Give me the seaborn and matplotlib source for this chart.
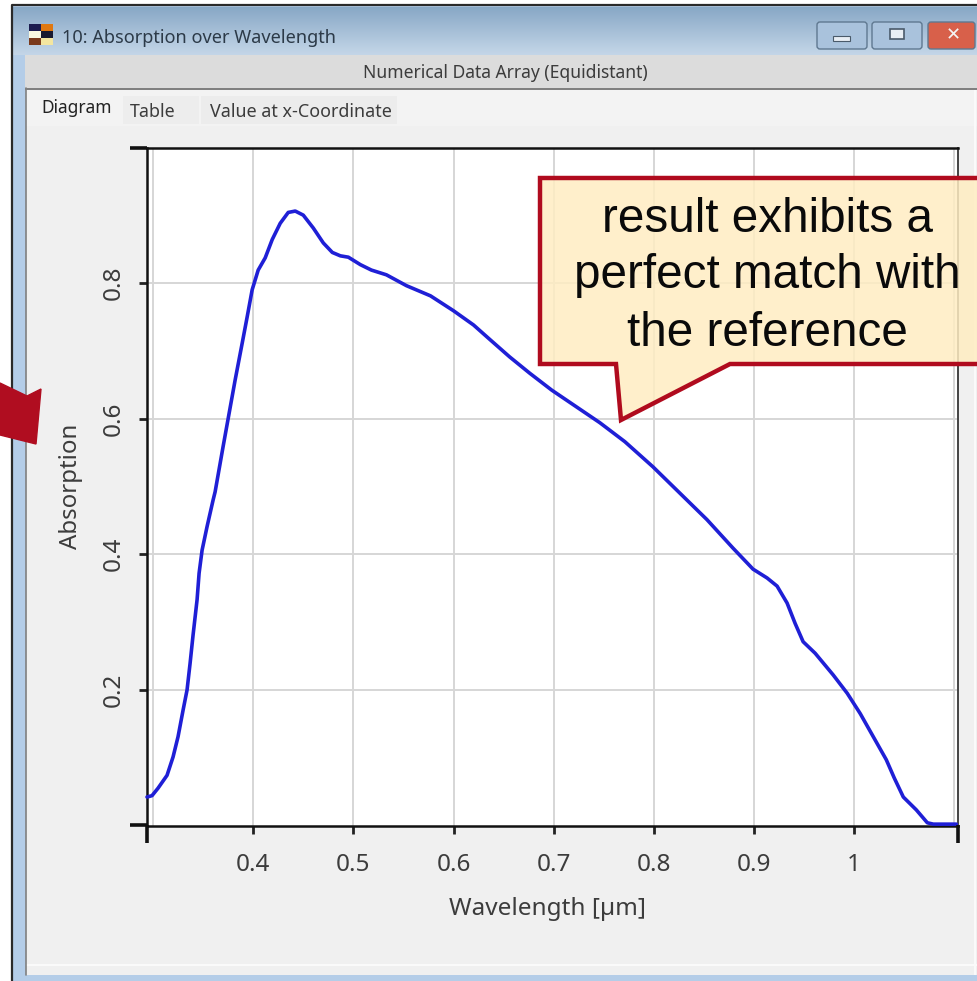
import numpy as np
import pandas as pd
import matplotlib
matplotlib.use("Agg")
import matplotlib.pyplot as plt
from matplotlib.patches import Rectangle, Polygon, FancyBboxPatch
import seaborn as sns

wavelength = [0.294, 0.299, 0.305, 0.314, 0.320, 0.325, 0.330, 0.334, 0.337, 0.340,
              0.344, 0.346, 0.349, 0.354, 0.360, 0.362, 0.370, 0.376, 0.382, 0.389,
              0.394, 0.399, 0.405, 0.412, 0.419, 0.427, 0.435, 0.442, 0.450, 0.460,
              0.470, 0.479, 0.487, 0.495, 0.507, 0.518, 0.533, 0.553, 0.577, 0.600,
              0.620, 0.636, 0.656, 0.676, 0.698, 0.721, 0.746, 0.771, 0.799, 0.826,
              0.853, 0.879, 0.899, 0.913, 0.923, 0.933, 0.941, 0.949, 0.961, 0.979,
              0.993, 1.006, 1.019, 1.032, 1.040, 1.049, 1.062, 1.073, 1.079, 1.102]
absorption = [0.042, 0.044, 0.055, 0.074, 0.101, 0.131, 0.170, 0.200, 0.239, 0.281,
              0.333, 0.372, 0.406, 0.441, 0.480, 0.492, 0.559, 0.608, 0.657, 0.711,
              0.750, 0.790, 0.819, 0.837, 0.864, 0.888, 0.904, 0.906, 0.900, 0.881,
              0.859, 0.845, 0.840, 0.838, 0.827, 0.819, 0.812, 0.796, 0.781, 0.759,
              0.738, 0.717, 0.691, 0.667, 0.642, 0.619, 0.594, 0.566, 0.529, 0.490,
              0.451, 0.409, 0.378, 0.365, 0.353, 0.328, 0.298, 0.271, 0.254, 0.222,
              0.195, 0.165, 0.131, 0.097, 0.070, 0.042, 0.023, 0.004, 0.002, 0.002]
x_ticks = [0.4, 0.5, 0.6, 0.7, 0.8, 0.9, 1.0]
x_tick_labels = ["0.4", "0.5", "0.6", "0.7", "0.8", "0.9", "1"]
x_extra_grid = [0.3, 1.1]
y_ticks = [0.2, 0.4, 0.6, 0.8]
y_tick_labels = ["0.2", "0.4", "0.6", "0.8"]

W, H = 978, 981
UI_FONT = "Noto Sans"
TXT = "#3c3c3c"

sns.set_theme(style="white")
plt.rcParams["font.family"] = UI_FONT

df = pd.DataFrame({"Wavelength": wavelength, "Absorption": absorption})

fig = plt.figure(figsize=(W / 100, H / 100), dpi=100, facecolor="white")


def pixel_axes(zorder):
    a = fig.add_axes([0, 0, 1, 1], zorder=zorder)
    a.set_xlim(0, W)
    a.set_ylim(H, 0)
    a.axis("off")
    a.patch.set_alpha(0)
    return a


# window chrome, drawn in pixel coordinates
bg = pixel_axes(0)
bg.add_patch(Rectangle((12, 5), W - 12, H - 5, fc="#b4cde8", ec="none"))
grad = np.linspace(0, 1, 64).reshape(-1, 1)
cmap = matplotlib.colors.LinearSegmentedColormap.from_list("title", ["#88a8c6", "#c4d6e8"])
bg.imshow(grad, extent=(13, W, 55, 7), cmap=cmap, aspect="auto", zorder=1)
bg.set_xlim(0, W)
bg.set_ylim(H, 0)
bg.plot([12, 12, W], [H, 5, 5], color="#2a2a2a", lw=1.6, zorder=3)
bg.add_patch(Rectangle((25, 55), W - 25, 33, fc="#dcdcdc", ec="none", zorder=2))
bg.add_patch(Rectangle((25, 88), W - 25, 2, fc="#808080", ec="none", zorder=2))
bg.add_patch(Rectangle((26, 90), W - 26, 885, fc="#f0f0f0", ec="none", zorder=2))
bg.add_patch(Rectangle((26, 964), W - 26, 2, fc="#fafafa", ec="none", zorder=3))
bg.add_patch(Rectangle((26, 90), W - 26, 36, fc="#f3f3f3", ec="none", zorder=2))
bg.add_patch(Rectangle((974, 90), 1.5, 885, fc="#fafafa", ec="none", zorder=3))
bg.plot([26, 26], [88, 975], color="#808080", lw=1.2, zorder=3)
bg.add_patch(Rectangle((123, 96), 76, 28, fc="#ededed", ec="none", zorder=3))
bg.add_patch(Rectangle((201, 96), 196, 28, fc="#ececec", ec="none", zorder=3))

# title bar icon
for i, colors in enumerate([["#1c1c50", "#e07810"], ["#f8f8e0", "#1a1a30"], ["#7a3a1c", "#f4e6a0"]]):
    for j, c in enumerate(colors):
        bg.add_patch(Rectangle((29 + j * 12, 24 + i * 7), 12, 7, fc=c, ec="none", zorder=4))

# window buttons
buttons = [(817, 50, "#a9c2dc"), (872, 50, "#a9c2dc"), (928, 47, "#d8604a")]
for bx, bw, col in buttons:
    bg.add_patch(FancyBboxPatch((bx, 22), bw, 27, boxstyle="round,pad=0,rounding_size=3",
                                fc=col, ec="#5f7890", lw=1, zorder=4))
bg.add_patch(Rectangle((833, 36), 17, 5, fc="#e8eef4", ec="#4a5a6a", lw=0.8, zorder=5))
bg.add_patch(Rectangle((890, 29), 14, 10, fc="#e8eef4", ec="#4a5a6a", lw=1.2, zorder=5))
bg.text(953, 35, "✕", ha="center", va="center", fontsize=13, fontweight="bold",
        color="#f4f4f4", family="DejaVu Sans", zorder=5)

bg.text(62, 38, "10: Absorption over Wavelength", fontsize=13.1, color="#2c3a48", va="center", zorder=5)
bg.text(505, 73, "Numerical Data Array (Equidistant)", fontsize=12.6, color=TXT, ha="center", va="center", zorder=5)
bg.text(41, 108, "Diagram", fontsize=12.5, color="#222222", va="center", zorder=5)
bg.text(130, 112, "Table", fontsize=12.8, color=TXT, va="center", zorder=5)
bg.text(210, 112, "Value at x-Coordinate", fontsize=12.9, color=TXT, va="center", zorder=5)

# plot area
left, right, top, bottom = 147, 958, 148, 825.5
ax = fig.add_axes([left / W, 1 - bottom / H, (right - left) / W, (bottom - top) / H], zorder=1)
sns.lineplot(data=df, x="Wavelength", y="Absorption", ax=ax, color="#1f1fd6", lw=2.6,
             estimator=None, sort=False, clip_on=False, zorder=5, solid_joinstyle="round")
ax.set_xlim(0.294, 1.1036)
ax.set_ylim(0, 0.999)
ax.set_facecolor("white")
ax.set_axisbelow(True)
ax.set_xticks(x_ticks, x_tick_labels)
ax.set_xticks(x_extra_grid, minor=True)
ax.set_yticks(y_ticks, y_tick_labels, rotation=90, va="center")
ax.grid(True, which="both", color="#d6d6d6", lw=1.4)
ax.tick_params(axis="x", which="minor", length=0)
ax.tick_params(axis="x", which="major", length=5.5, width=2, color="#222222", labelsize=17.5,
               labelcolor=TXT, bottom=True, pad=14.5)
ax.tick_params(axis="y", length=5.5, width=2, color="#222222", labelsize=17.5,
               labelcolor=TXT, left=True, pad=10)
ax.set_xlabel("Wavelength [µm]", fontsize=17.5, color=TXT, labelpad=14, x=0.494)
ax.set_ylabel("Absorption", fontsize=17.3, color=TXT, labelpad=13)
for side in ["left", "bottom", "top"]:
    ax.spines[side].set_color("#111111")
    ax.spines[side].set_linewidth(1.8)
ax.spines["right"].set_color("#444444")
ax.spines["right"].set_linewidth(1.4)

# overlay: axis end ticks, callout, arrow
fg = pixel_axes(2)
for xs, ys in [([130, 147], [148, 148]), ([130, 147], [824.5, 824.5]), ([147, 147], [825, 843]), ([958, 958], [825, 843])]:
    fg.plot(xs, ys, color="#111111", lw=2.6, solid_capstyle="butt")

callout = [(540, 178), (W + 5, 178), (W + 5, 364), (730, 364), (621, 420), (616, 364), (540, 364)]
fg.add_patch(Polygon(callout, closed=True, fc=(1.0, 0.93, 0.76, 0.85), ec="#b00b1e", lw=3.2, zorder=5))
for text_line, ty in zip(["result exhibits a", "perfect match with", "the reference"], [220, 276, 333]):
    fg.text(767, ty, text_line, fontsize=34.3, family="Liberation Sans", color="#0a0a0a",
            ha="center", va="center", zorder=6)

fg.add_patch(Polygon([(0, 383), (27, 396), (41, 389), (36, 444), (0, 435)], closed=True,
                     fc="#b00d20", ec="#b00d20", lw=1, zorder=5))
fg.set_xlim(0, W)
fg.set_ylim(H, 0)

fig.savefig("out.png", dpi=100)
